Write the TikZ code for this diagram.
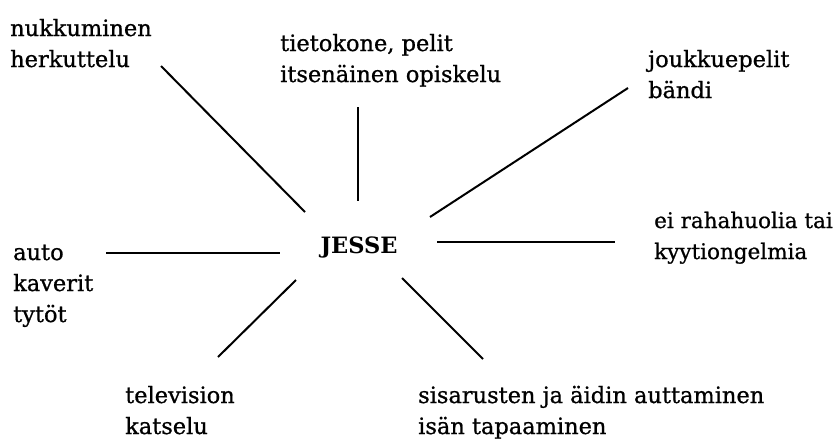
\documentclass[tikz,border=0pt]{standalone}
\usepackage{fontspec}
\setmainfont{DejaVu Serif}
\newfontfamily\lblfont{DejaVu Serif}[FakeBold=0.8]
\begin{document}
\begin{tikzpicture}[x=1pt,y=-1pt,
  lbl/.style={inner sep=0pt, align=left, font=\lblfont\fontsize{22.5}{31}\selectfont, anchor=base west},
  spoke/.style={line width=2pt}]
\useasboundingbox[fill=white] (0,0) rectangle (837,442);
% multi-line nodes: base anchor = baseline of the last line
\node[lbl] (nuk) at (10,67) {nukkuminen\\herkuttelu};
\node[lbl] (tie) at (280,82) {tietokone, pelit\\itsenäinen opiskelu};
\node[lbl] (jou) at (648,98) {joukkuepelit\\bändi};
\node[lbl, font=\lblfont\fontsize{21.5}{31}\selectfont] (ei) at (654,259) {ei rahahuolia tai\\kyytiongelmia};
\node[lbl] (aut) at (13,322) {auto\\kaverit\\tytöt};
\node[lbl] (tel) at (125,434) {television\\katselu};
\node[lbl] (sis) at (418,434) {sisarusten ja äidin auttaminen\\isän tapaaminen};
\node[inner sep=0pt, anchor=base, font=\bfseries\fontsize{22.5}{31}\selectfont] (jes) at (359,253) {JESSE};
% spoke end points
\coordinate (s1a) at (161,66);  \coordinate (s1b) at (305,212);
\coordinate (s2a) at (358,107); \coordinate (s2b) at (358,201);
\coordinate (s3a) at (628,88);  \coordinate (s3b) at (430,217);
\coordinate (s4a) at (106,253); \coordinate (s4b) at (280,253);
\coordinate (s5a) at (437,242); \coordinate (s5b) at (615,242);
\coordinate (s6a) at (296,280); \coordinate (s6b) at (218,357);
\coordinate (s7a) at (402,278); \coordinate (s7b) at (483,359);
\draw[spoke] (s1a) -- (s1b);
\draw[spoke] (s2a) -- (s2b);
\draw[spoke] (s3a) -- (s3b);
\draw[spoke] (s4a) -- (s4b);
\draw[spoke] (s5a) -- (s5b);
\draw[spoke] (s6a) -- (s6b);
\draw[spoke] (s7a) -- (s7b);
\end{tikzpicture}
\end{document}
